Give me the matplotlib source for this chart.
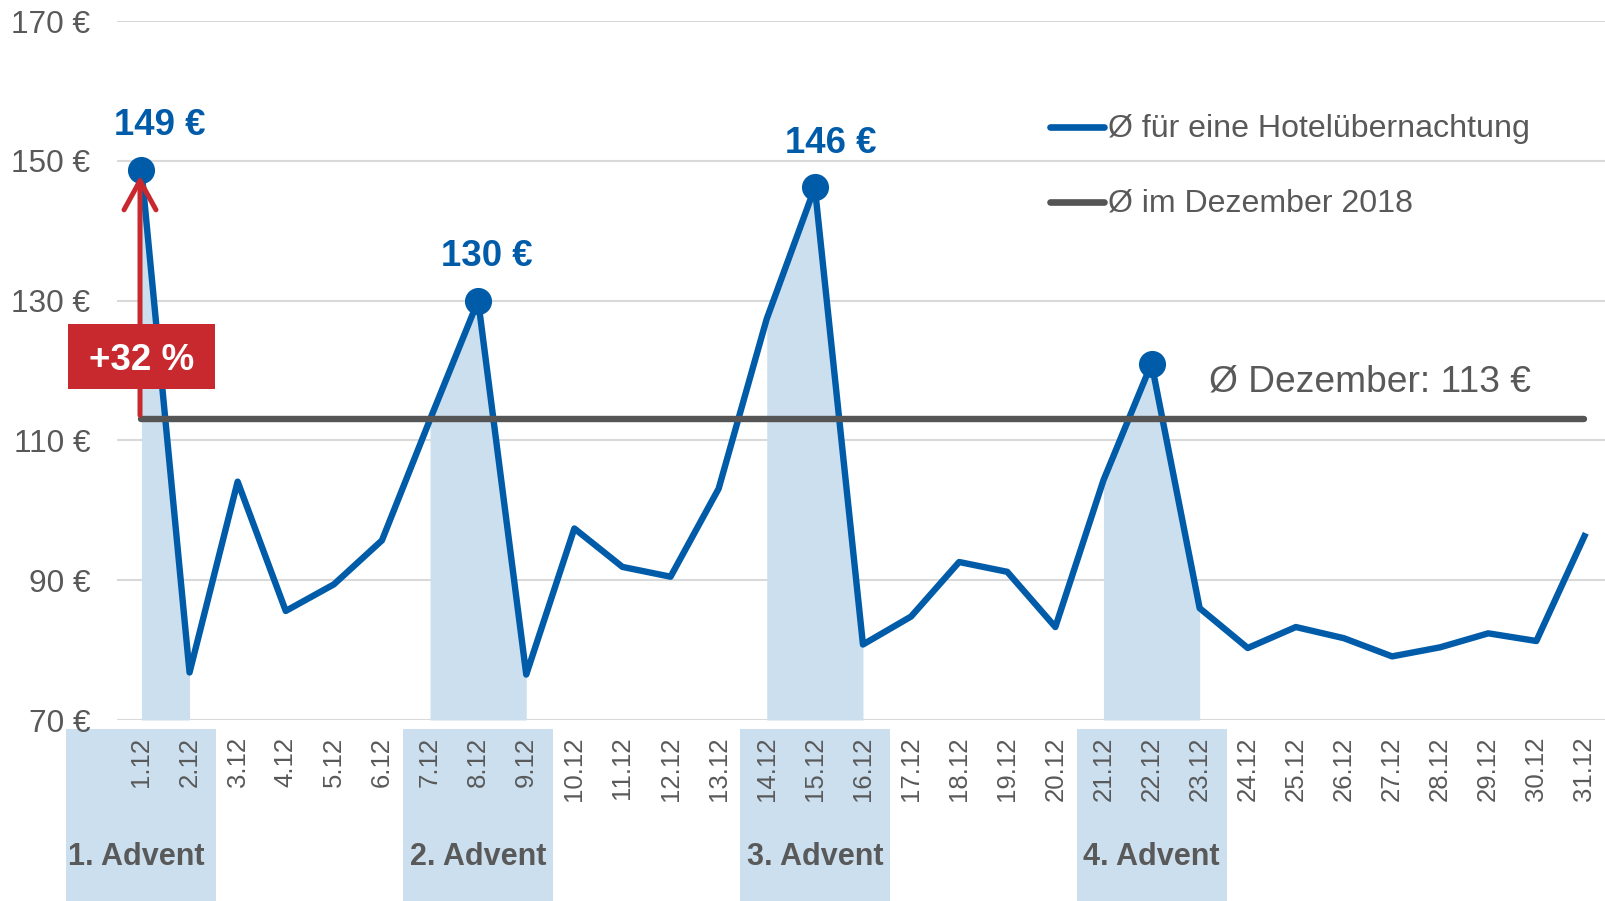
import matplotlib
matplotlib.use("Agg")
import matplotlib.pyplot as plt
from matplotlib.patches import Rectangle, FancyArrowPatch
from matplotlib.lines import Line2D
import matplotlib.transforms as mtrans

# ---------------- data ----------------
days = list(range(1, 32))
day_labels = [f"{d}.12" for d in days]
prices = [148.7, 76.8, 104.1, 85.6, 89.4, 95.7, 113.0, 130.0, 76.5, 97.4,
          91.9, 90.5, 103.1, 127.4, 146.2, 80.8, 84.8, 92.6, 91.2, 83.3,
          104.3, 121.0, 86.0, 80.3, 83.3, 81.7, 79.1, 80.4, 82.4, 81.3, 96.3]
december_avg = 113
advent_spans = [(1, 2), (7, 9), (14, 16), (21, 23)]
advent_labels = ["1. Advent", "2. Advent", "3. Advent", "4. Advent"]
marker_days = [1, 8, 15, 22]
peak_days = [1, 8, 15]
peak_labels = ["149 €", "130 €", "146 €"]
y_ticks = [70, 90, 110, 130, 150, 170]
y_tick_labels = [f"{v} €" for v in y_ticks]
legend_labels = ["Ø für eine Hotelübernachtung", "Ø im Dezember 2018"]
avg_text = "Ø Dezember: 113 €"
increase_text = "+32 %"

# ---------------- style ----------------
FONT = "Liberation Sans"
BLUE = "#005CA9"
LIGHT = "#CCDFEE"
GRAY_LINE = "#555555"
TEXT = "#595959"
RED = "#C8292E"
GRID = "#D9D9D9"
W, H = 1606, 901
peak_dx_px = [18, 9, 16]          # horizontal offsets of peak labels (pixels)
advent_label_dx = [-0.1, 0, 0, 0]  # small shifts of advent labels (days)

plt.rcParams["font.family"] = [FONT, "DejaVu Sans"]

fig = plt.figure(figsize=(W / 100, H / 100), dpi=100)
ax = fig.add_axes([117.4 / W, 181 / H, (1608.5 - 117.4) / W, (720 - 21) / H])

ax.set_xlim(0.5, 31.5)
ax.set_ylim(70, 170)
for s in ax.spines.values():
    s.set_visible(False)

ax.set_yticks(y_ticks)
ax.set_yticklabels(y_tick_labels, fontsize=22.8, color=TEXT)
ax.set_xticks(days)
ax.set_xticklabels(day_labels, fontsize=18.5, color=TEXT, rotation=90)
ax.tick_params(axis="y", length=0, pad=19.5)
ax.tick_params(axis="x", length=0, pad=12)
ax.yaxis.grid(True, color=GRID, lw=1.5)
ax.set_axisbelow(True)

# shaded advent areas under the curve
for s, e in advent_spans:
    xs = days[s - 1:e]
    ys = prices[s - 1:e]
    ax.fill_between(xs, ys, 70, color=LIGHT, lw=0, zorder=1)

# advent label boxes below the axis
blend = mtrans.blended_transform_factory(ax.transData, fig.transFigure)
box_w = 3.12
for (s, e), lab, dx in zip(advent_spans, advent_labels, advent_label_dx):
    right = e + 0.56
    left = right - box_w
    ax.add_patch(Rectangle((left, 0), box_w, (901 - 729) / H, transform=blend,
                           facecolor=LIGHT, edgecolor="none", clip_on=False, zorder=0))
    ax.text((left + right) / 2 + dx, 36 / H, lab, transform=blend, ha="center",
            va="baseline", fontsize=22, fontweight="bold", color=TEXT)

# main price line
ax.plot(days, prices, color=BLUE, lw=4.6, solid_joinstyle="round", zorder=2)

# december average line
ax.plot([days[0], days[-1]], [december_avg, december_avg], color=GRAY_LINE, lw=4.6,
        solid_capstyle="round", zorder=3)

# markers
ax.plot(marker_days, [prices[d - 1] for d in marker_days], "o", color=BLUE,
        markersize=18.5, zorder=4)

# peak labels
for d, lab, dxp in zip(peak_days, peak_labels, peak_dx_px):
    ax.annotate(lab, (d, prices[d - 1]), xytext=(dxp * 0.72, 25), textcoords="offset points",
                ha="center", va="baseline", fontsize=26.4, fontweight="bold",
                color=BLUE, zorder=7)

# red arrow from average to the first peak
arrow = FancyArrowPatch((0.97, december_avg + 0.6), (0.97, 147.9),
                        arrowstyle="->,head_length=21,head_width=11.5",
                        mutation_scale=1, color=RED, lw=3.6, capstyle="round",
                        joinstyle="round", zorder=5, shrinkA=0, shrinkB=0)
ax.add_patch(arrow)

# red percentage box
ax.add_patch(Rectangle((-0.52, 117.4), 3.05, 9.27, facecolor=RED, edgecolor="none",
                       clip_on=False, zorder=6))
ax.text(1.0, 120.1, increase_text, ha="center", va="baseline", fontsize=26.5,
        fontweight="bold", color="white", zorder=7)

# average annotation
ax.text(1209 / W, 1 - 391.7 / H, avg_text, transform=fig.transFigure, ha="left",
        va="baseline", fontsize=26.7, color=TEXT, zorder=7)

# legend (drawn manually)
legend_colors = [BLUE, GRAY_LINE]
legend_rows = [127, 202]
for col, lab, yr in zip(legend_colors, legend_labels, legend_rows):
    fig.add_artist(Line2D([1050 / W, 1104 / W], [1 - yr / H, 1 - yr / H],
                          transform=fig.transFigure, color=col, lw=4.8,
                          solid_capstyle="round"))
    fig.text(1108 / W, 1 - (yr + 9.7) / H, lab, ha="left", va="baseline",
             fontsize=23.1, color=TEXT)

fig.savefig("out.png", dpi=100)
